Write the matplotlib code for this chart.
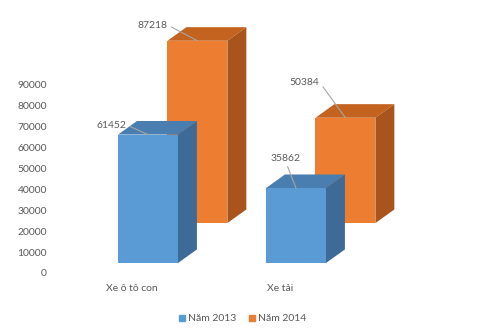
import matplotlib
matplotlib.use("Agg")
import matplotlib.pyplot as plt
from matplotlib.lines import Line2D

plt.rcParams['font.family'] = ['Lato', 'DejaVu Sans']

categories = ["Xe ô tô con", "Xe tải"]
series_names = ["Năm 2013", "Năm 2014"]
values_2013 = [61452, 35862]
values_2014 = [87218, 50384]
y_ticks = [0, 10000, 20000, 30000, 40000, 50000, 60000, 70000, 80000, 90000]

# styles
front_colors = ["#5B9BD5", "#ED7D31"]
top_colors = ["#4A7DB0", "#C3631F"]
side_colors = ["#3D6A96", "#A8541C"]
text_color = "#595959"
width = 0.405
row_dx = [0.0, 0.334]          # back row shift in category units
row_base = [4780, 23900]       # row baseline (3D projection)
depth_dx = 0.128
depth_dy = 6500
label_offsets_px = [[(-37, 9), (-10, 30)], [(-45, 15), (-41, 35)]]
label_relpos = [[(1, 0.6), (0.5, 0)], [(1, 0.6), (1, 0.6)]]

W, H, DPI = 480, 328, 100
fig = plt.figure(figsize=(W / DPI, H / DPI), dpi=DPI)
ax = fig.add_axes([55 / W, 0, 1 - 55 / W, 1])
px_per_cat = 148
px_per_val = 20.9 / 10000
zero_px = 273
ax.set_xlim((55 - 148) / px_per_cat, (W - 148) / px_per_cat)
ax.set_ylim(-(H - zero_px) / px_per_val, zero_px / px_per_val)

series = [values_2013, values_2014]
for s in [1, 0]:
    vals = series[s]
    z = 1 if s == 1 else 5
    xs = [i + row_dx[s] for i in range(len(categories))]
    base = row_base[s]
    ax.bar(xs, vals, width=width, bottom=base, color=front_colors[s],
           zorder=z, linewidth=0)
    for x, v in zip(xs, vals):
        x0, x1 = x - width / 2, x + width / 2
        top = base + v
        ax.fill([x0, x1, x1 + depth_dx, x0 + depth_dx],
                [top, top, top + depth_dy, top + depth_dy],
                color=top_colors[s], zorder=z, linewidth=0)
        ax.fill([x1, x1 + depth_dx, x1 + depth_dx, x1],
                [base, base + depth_dy, top + depth_dy, top],
                color=side_colors[s], zorder=z, linewidth=0)
    for i, (x, v) in enumerate(zip(xs, vals)):
        ox, oy = label_offsets_px[s][i]
        ax.annotate(str(v), xy=(x, base + v),
                    xytext=(ox * 0.72, oy * 0.72), textcoords='offset points',
                    ha='center', va='center', fontsize=7.5, color=text_color,
                    zorder=10,
                    arrowprops=dict(arrowstyle='-', color='#A6A6A6', lw=0.8,
                                    relpos=label_relpos[s][i],
                                    shrinkA=1, shrinkB=0))

for i, c in enumerate(categories):
    ax.text(i - 0.11, -7200, c, ha='center', va='center', fontsize=7.5,
            color=text_color)

ax.set_yticks(y_ticks)
ax.set_yticklabels([str(t) for t in y_ticks])
ax.tick_params(axis='y', length=0, pad=8 * 0.72, labelsize=7.5,
               labelcolor=text_color)
ax.set_xticks([])
for sp in ax.spines.values():
    sp.set_visible(False)
ax.patch.set_alpha(0)

handles = [Line2D([], [], marker='s', linestyle='none', markersize=4.5,
                  color=front_colors[k]) for k in range(2)]
fig.legend(handles, series_names, loc='center', bbox_to_anchor=(0.505, 0.028),
           ncol=2, frameon=False, fontsize=7.5, handlelength=0.6,
           handletextpad=0.3, columnspacing=1.2, labelcolor=text_color)

fig.savefig("out.png", dpi=DPI)
